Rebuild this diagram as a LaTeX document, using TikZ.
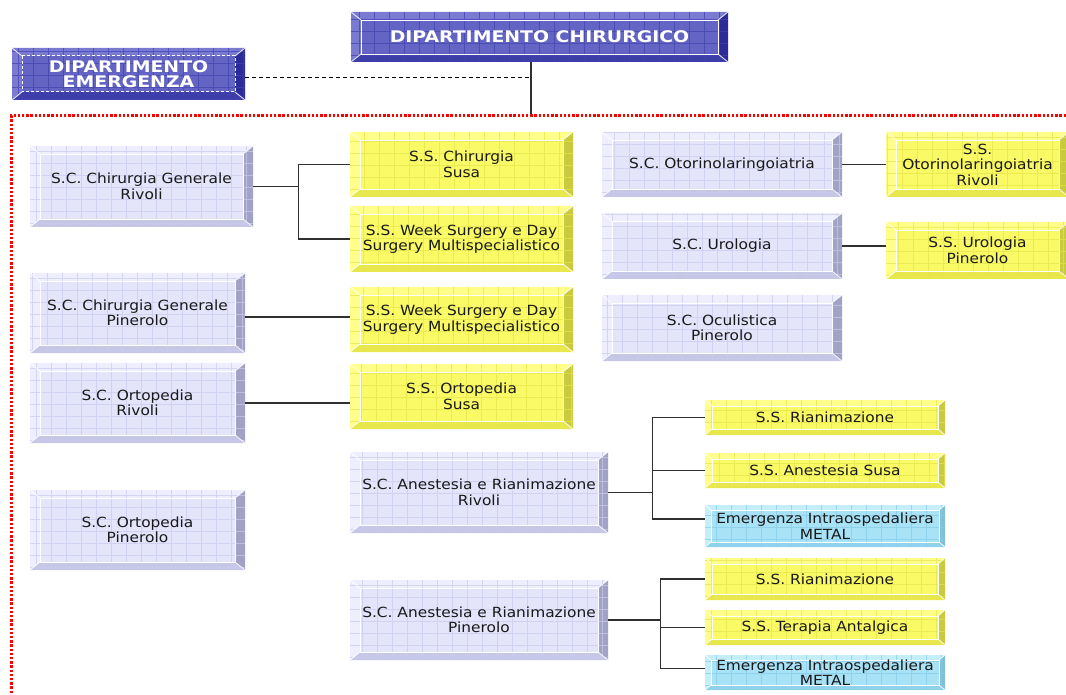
\documentclass[tikz,border=0pt]{standalone}
\usepackage{fontspec}
\setmainfont{DejaVu Sans}[FakeStretch=1.1]
\newfontfamily\titlefont{DejaVu Sans}[FakeStretch=1.18]
\definecolor{lavface}{HTML}{E4E4FA}
\definecolor{lavlight}{HTML}{EEEEFF}
\definecolor{lavmid}{HTML}{C6C6E6}
\definecolor{lavdark}{HTML}{A2A2C6}
\definecolor{lavgrid}{HTML}{CACAEE}
\definecolor{yelface}{HTML}{FAFA66}
\definecolor{yellight}{HTML}{FFFF8A}
\definecolor{yelmid}{HTML}{E8E84E}
\definecolor{yeldark}{HTML}{CACA3E}
\definecolor{yelgrid}{HTML}{E4E44C}
\definecolor{cyface}{HTML}{A8E2F6}
\definecolor{cylight}{HTML}{C4EEFA}
\definecolor{cymid}{HTML}{8ED2EC}
\definecolor{cydark}{HTML}{7CC0DA}
\definecolor{cygrid}{HTML}{86CCE8}
\definecolor{dkface}{HTML}{6464C4}
\definecolor{dklight}{HTML}{7A7AD2}
\definecolor{dkmid}{HTML}{3E3EAA}
\definecolor{dkdark}{HTML}{2C2C98}
\definecolor{dkgrid}{HTML}{4242B0}
\definecolor{conn}{HTML}{303030}
\newcommand\bodyfont{\fontsize{14}{15.5}\selectfont}
\newcommand\headfont{\titlefont\bfseries\fontsize{16}{17.5}\selectfont}
\newcommand\bevdraw{%
  \coordinate (Bnw) at (path picture bounding box.north west);
  \coordinate (Bne) at (path picture bounding box.north east);
  \coordinate (Bsw) at (path picture bounding box.south west);
  \coordinate (Bse) at (path picture bounding box.south east);
  \fill[\bface] (Bsw) rectangle (Bne);
  \fill[\blight] (Bnw) -- (Bne) -- ([xshift=-\bvx,yshift=-\bvy]Bne) -- ([xshift=\bvx,yshift=-\bvy]Bnw) -- cycle;
  \fill[\blight] (Bnw) -- (Bsw) -- ([xshift=\bvx,yshift=\bvy]Bsw) -- ([xshift=\bvx,yshift=-\bvy]Bnw) -- cycle;
  \fill[\bmid] (Bsw) -- (Bse) -- ([xshift=-\bvx,yshift=\bvy]Bse) -- ([xshift=\bvx,yshift=\bvy]Bsw) -- cycle;
  \fill[\bdark] (Bne) -- (Bse) -- ([xshift=-\bvx,yshift=\bvy]Bse) -- ([xshift=-\bvx,yshift=-\bvy]Bne) -- cycle;
  \draw[\bgrid, line width=0.6pt, opacity=0.7] (Bsw) grid[xstep=15pt, ystep=12pt] (Bne);
  \draw[white, line width=0.8pt, opacity=0.9] (Bnw) -- ([xshift=\bvx,yshift=-\bvy]Bnw)
    (Bne) -- ([xshift=-\bvx,yshift=-\bvy]Bne)
    (Bsw) -- ([xshift=\bvx,yshift=\bvy]Bsw)
    (Bse) -- ([xshift=-\bvx,yshift=\bvy]Bse);
  \draw[innerl] ([xshift=\bvx,yshift=-\bvy]Bnw) rectangle ([xshift=-\bvx,yshift=\bvy]Bse);
}
\tikzset{
  bface/.store in=\bface, blight/.store in=\blight, bmid/.store in=\bmid,
  bdark/.store in=\bdark, bgrid/.store in=\bgrid,
  bvx/.store in=\bvx, bvy/.store in=\bvy, bvx=10pt, bvy=8pt,
  innerl/.style={white, line width=0.8pt},
  bevbox/.style={inner sep=1pt, align=center, font=\bodyfont, text=black!90, path picture={\bevdraw}},
  lav/.style={bevbox, bface=lavface, blight=lavlight, bmid=lavmid, bdark=lavdark, bgrid=lavgrid},
  yel/.style={bevbox, bface=yelface, blight=yellight, bmid=yelmid, bdark=yeldark, bgrid=yelgrid},
  cya/.style={bevbox, bface=cyface, blight=cylight, bmid=cymid, bdark=cydark, bgrid=cygrid, bvx=6pt, bvy=5pt},
  small/.style={bvx=7pt, bvy=6pt},
  dk/.style={bevbox, bface=dkface, blight=dklight, bmid=dkmid, bdark=dkdark, bgrid=dkgrid, font=\headfont, text=white},
  dkdash/.style={dk, innerl/.style={white, line width=1pt, dash pattern=on 3pt off 2pt}},
  link/.style={conn, line width=1.1pt},
  dashlink/.style={black, line width=0.9pt, dash pattern=on 4pt off 3pt},
  redline/.style={red, line width=3pt, dash pattern=on 2.4pt off 1.8pt},
}
\newcommand\bx[7]{%
  \node[#2, minimum width={(#5-#3)*1pt}, minimum height={(#6-#4)*1pt}]
    (#1) at ({(#3+#5)/2},{(#4+#6)/2}) {#7};}
\begin{document}
\begin{tikzpicture}[x=1pt, y=-1pt]
\useasboundingbox (0,0) rectangle (1066,695);
% departments
\bx{chir}{dk}{351}{12}{728}{62}{DIPARTIMENTO CHIRURGICO}
\bx{emer}{dkdash}{12}{48}{245}{100}{DIPARTIMENTO\\[-2pt]EMERGENZA}
\coordinate (j) at (531,116);
\draw[link] (chir.south -| j) -- (j);
\draw[dashlink] ([yshift=-3pt]emer.east) -- ([yshift=-3pt]emer.east -| j);
\draw[redline] (1066,116) -- (11,116) -- (11,695);
% left column
\bx{cgr}{lav}{30}{146}{253}{227}{S.C. Chirurgia Generale\\Rivoli}
\bx{cgp}{lav}{30}{273}{245}{353}{S.C. Chirurgia Generale\\Pinerolo}
\bx{orv}{lav}{30}{363}{245}{443}{S.C. Ortopedia\\Rivoli}
\bx{opn}{lav}{30}{490}{245}{570}{S.C. Ortopedia\\Pinerolo}
% yellow middle
\bx{ssc}{yel}{350}{132}{573}{197}{S.S. Chirurgia\\Susa}
\bx{ssw1}{yel}{350}{206}{573}{272}{S.S. Week Surgery e Day\\Surgery Multispecialistico}
\bx{ssw2}{yel}{350}{287}{573}{352}{S.S. Week Surgery e Day\\Surgery Multispecialistico}
\bx{sso}{yel}{350}{364}{573}{429}{S.S. Ortopedia\\Susa}
% right upper
\bx{oto}{lav}{602}{132}{842}{197}{S.C. Otorinolaringoiatria}
\bx{ssoto}{yel}{886}{132}{1069}{197}{S.S.\\Otorinolaringoiatria\\Rivoli}
\bx{uro}{lav}{602}{213}{842}{279}{S.C. Urologia}
\bx{ssuro}{yel}{886}{222}{1069}{279}{S.S. Urologia\\Pinerolo}
\bx{ocu}{lav}{602}{295}{842}{361}{S.C. Oculistica\\Pinerolo}
% anestesia
\bx{anr}{lav}{350}{452}{608}{533}{S.C. Anestesia e Rianimazione\\Rivoli}
\bx{r1}{yel, small}{705}{400}{945}{435}{S.S. Rianimazione}
\bx{a1}{yel, small}{705}{453}{945}{488}{S.S. Anestesia Susa}
\bx{m1}{cya}{705}{505}{945}{547}{Emergenza Intraospedaliera\\METAL}
\bx{anp}{lav}{350}{580}{608}{660}{S.C. Anestesia e Rianimazione\\Pinerolo}
\bx{r2}{yel, small}{705}{558}{945}{600}{S.S. Rianimazione}
\bx{t2}{yel, small}{705}{610}{945}{645}{S.S. Terapia Antalgica}
\bx{m2}{cya}{705}{655}{945}{690}{Emergenza Intraospedaliera\\METAL}
% connectors
\draw[link] (cgr.east) -- ++(45,0) coordinate (f1) |- (ssc.west);
\draw[link] (f1) |- (ssw1.west);
\draw[link] ([yshift=-4pt]cgp.east) -- ([yshift=-4pt]cgp.east -| ssw2.west);
\draw[link] (orv.east) -- (orv.east -| sso.west);
\draw[link] (oto.east) -- (oto.east -| ssoto.west);
\draw[link] (uro.east) -- (uro.east -| ssuro.west);
\draw[link] (anr.east) -- ++(44,0) coordinate (f2) |- (r1.west);
\draw[link] (f2) |- (a1.west);
\draw[link] (f2) |- ([yshift=7pt]m1.west);
\draw[link] (anp.east) -- ++(52,0) coordinate (f3) |- (r2.west);
\draw[link] (f3) |- (t2.west);
\draw[link] (f3) |- ([yshift=4pt]m2.west);
\end{tikzpicture}
\end{document}
